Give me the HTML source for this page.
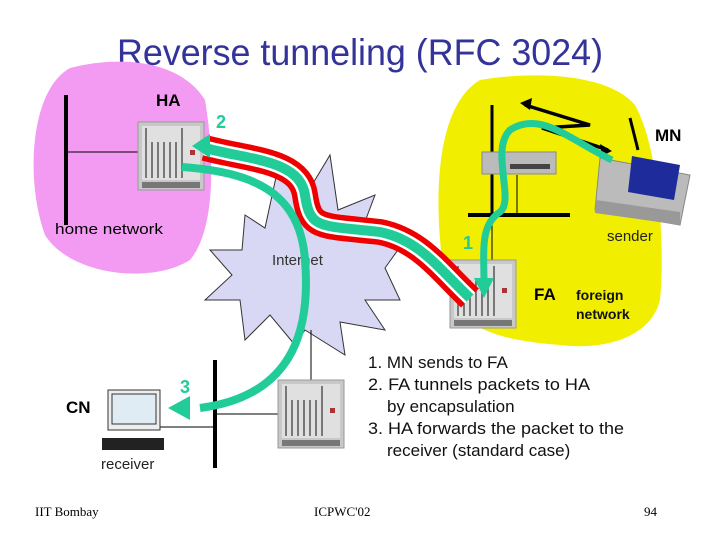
<!DOCTYPE html>
<html><head><meta charset="utf-8"><style>html,body{margin:0;padding:0;background:#fff}svg{display:block}</style></head>
<body>
<svg width="720" height="540" viewBox="0 0 720 540" xmlns="http://www.w3.org/2000/svg" font-family="Liberation Sans, sans-serif">
<defs>
<g id="rack">
<rect x="0" y="0" width="66" height="68" fill="#c8c8c8" stroke="#999"/>
<rect x="4" y="4" width="58" height="54" fill="#e0e0e0"/>
<g stroke="#555" stroke-width="1.5">
<line x1="8" y1="6" x2="8" y2="56"/><line x1="14" y1="20" x2="14" y2="56"/><line x1="20" y1="20" x2="20" y2="56"/><line x1="26" y1="20" x2="26" y2="56"/><line x1="32" y1="20" x2="32" y2="56"/><line x1="38" y1="20" x2="38" y2="56"/><line x1="44" y1="6" x2="44" y2="56"/></g>
<rect x="52" y="28" width="5" height="5" fill="#a33"/>
<rect x="4" y="60" width="58" height="6" fill="#777"/>
</g>
</defs>
<text x="117" y="65" font-size="37" fill="#33339a" textLength="486" lengthAdjust="spacingAndGlyphs">Reverse tunneling (RFC 3024)</text>
<path d="M70,68 C120,55 180,60 205,100 C215,160 215,230 190,260 C150,285 70,275 45,235 C25,180 30,90 70,68Z" fill="#f39af3"/>
<path d="M480,80 C540,70 610,75 635,105 C660,150 665,250 660,300 C650,340 600,350 560,345 C500,340 455,330 445,280 C435,220 430,110 480,80Z" fill="#f2ee00"/>
<path d="M245,215 L265,228 L278,168 L300,205 L330,155 L338,210 L375,195 L360,235 L405,240 L385,268 L400,300 L365,300 L385,330 L340,322 L345,355 L305,330 L295,345 L270,315 L245,340 L240,300 L205,300 L232,275 L210,250 L242,250Z" fill="#d8d8f4" stroke="#333" stroke-width="1"/>
<text x="272" y="265" font-size="15" fill="#333">Internet</text>
<g stroke="#000">
<line x1="66" y1="95" x2="66" y2="225" stroke-width="4"/>
<line x1="66" y1="152" x2="140" y2="152" stroke-width="1"/>
<line x1="492" y1="105" x2="492" y2="215" stroke-width="3"/>
<line x1="468" y1="215" x2="570" y2="215" stroke-width="4"/>
<line x1="517" y1="175" x2="517" y2="215" stroke-width="1"/>
<line x1="492" y1="215" x2="492" y2="262" stroke-width="1"/>
<line x1="215" y1="360" x2="215" y2="468" stroke-width="4"/>
<line x1="215" y1="414" x2="278" y2="414" stroke-width="1"/>
<line x1="160" y1="427" x2="215" y2="427" stroke-width="1"/>
<line x1="311" y1="330" x2="311" y2="380" stroke-width="1"/>
<line x1="630" y1="118" x2="638" y2="150" stroke-width="3"/>
</g>
<path d="M525,105 L590,125 L542,128 L608,150" stroke="#000" stroke-width="3.5" fill="none"/>
<polygon points="520,103 532,98 530,110" fill="#000"/>
<polygon points="612,151 600,144 602,156" fill="#000"/>
<use href="#rack" x="138" y="122"/>
<use href="#rack" x="450" y="260"/>
<use href="#rack" x="278" y="380"/>
<rect x="482" y="152" width="74" height="22" fill="#bbb" stroke="#888"/>
<rect x="510" y="164" width="40" height="5" fill="#444"/>
<polygon points="600,158 690,175 680,225 595,210" fill="#bbb" stroke="#888"/>
<polygon points="632,156 680,165 674,200 628,192" fill="#1e2b9a"/>
<polygon points="596,200 680,212 680,225 595,213" fill="#999"/>
<rect x="108" y="390" width="52" height="40" fill="#eee" stroke="#333"/>
<rect x="112" y="394" width="44" height="30" fill="#e0ecf4" stroke="#333"/>
<rect x="102" y="438" width="62" height="12" fill="#222"/>
<path d="M470,298 C440,270 420,240 380,232 C320,225 310,230 305,195 C300,160 250,160 205,148" stroke="#ee0000" stroke-width="26" fill="none"/>
<path d="M470,298 C440,270 420,240 380,232 C320,225 310,230 305,195 C300,160 250,160 205,148" stroke="#fff" stroke-width="15" fill="none"/>
<path d="M470,298 C440,270 420,240 380,232 C320,225 310,230 305,195 C300,160 250,160 205,148" stroke="#22cc99" stroke-width="10" fill="none"/>
<polygon points="192,146 210,134 210,158" fill="#22cc99"/>
<path d="M612,160 C570,140 540,110 510,130 C490,150 515,200 500,212 C480,225 484,250 484,285" stroke="#22cc99" stroke-width="7" fill="none"/>
<polygon points="484,298 474,278 494,278" fill="#22cc99"/>
<path d="M182,167 C250,172 300,190 305,260 C310,320 300,395 200,408" stroke="#22cc99" stroke-width="8" fill="none"/>
<polygon points="168,408 190,396 190,420" fill="#22cc99"/>
<g font-weight="bold">
<text x="156" y="106" font-size="17">HA</text>
<text x="655" y="141" font-size="17">MN</text>
<text x="534" y="300" font-size="17">FA</text>
<text x="66" y="413" font-size="17">CN</text>
<text x="216" y="128" font-size="18" fill="#22cc99">2</text>
<text x="463" y="249" font-size="18" fill="#22cc99">1</text>
<text x="180" y="393" font-size="18" fill="#22cc99">3</text>
</g>
<text x="55" y="234" font-size="15" textLength="108" lengthAdjust="spacingAndGlyphs">home network</text>
<text x="607" y="241" font-size="15" fill="#222">sender</text>
<text x="576" y="300" font-size="14" font-weight="bold" fill="#111">foreign</text>
<text x="576" y="319" font-size="14" font-weight="bold" fill="#111">network</text>
<text x="101" y="469" font-size="15" fill="#222">receiver</text>
<g font-size="17" fill="#111">
<text x="368" y="368">1. MN sends to FA</text>
<text x="368" y="390" textLength="222" lengthAdjust="spacingAndGlyphs">2. FA tunnels packets to HA</text>
<text x="387" y="412">by encapsulation</text>
<text x="368" y="434" textLength="256" lengthAdjust="spacingAndGlyphs">3. HA forwards the packet to the</text>
<text x="387" y="456">receiver (standard case)</text>
</g>
<g font-family="Liberation Serif, serif" font-size="13">
<text x="35" y="516">IIT Bombay</text>
<text x="314" y="516">ICPWC'02</text>
<text x="644" y="516">94</text>
</g>
</svg>
</body></html>
